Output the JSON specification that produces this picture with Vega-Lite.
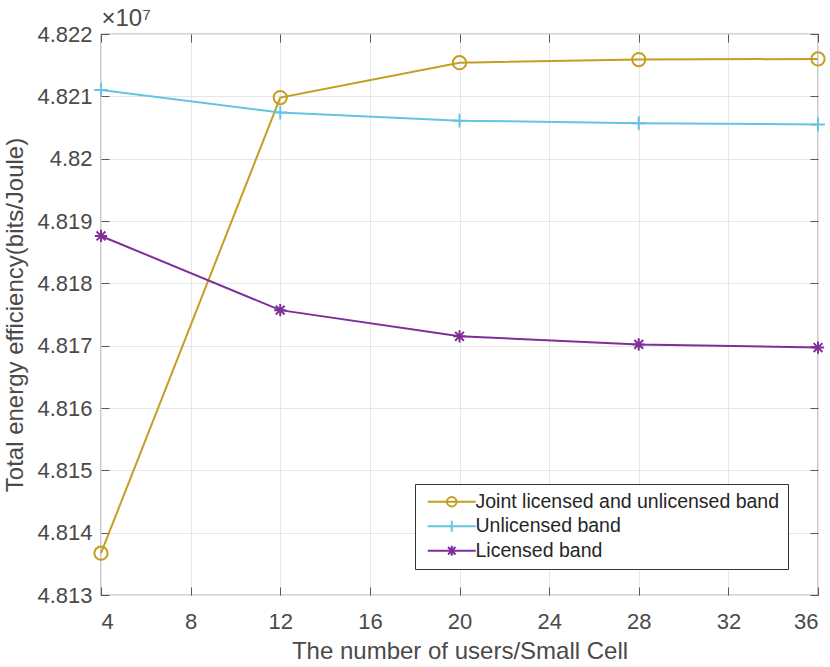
{
  "$schema": "https://vega.github.io/schema/vega-lite/v6.json",
  "width": 717,
  "height": 561,
  "autosize": {"type": "none"},
  "padding": {"left": 101, "top": 34, "right": 12, "bottom": 72},
  "background": "white",
  "config": {
    "font": "Liberation Sans",
    "view": {"stroke": "#555555", "strokeWidth": 1.2},
    "axis": {"labelFont": "Liberation Sans", "titleFont": "Liberation Sans", "labelColor": "#4a4a4a", "titleColor": "#4a4a4a", "labelFontSize": 22, "titleFontSize": 24, "titleFontWeight": "normal", "domainColor": "#555555", "tickColor": "#555555", "gridColor": "#e6e6e6", "gridWidth": 1}
  },
  "data": {"values": [
    {"series": "Joint licensed and unlicensed band", "users": 4, "ee": 4.81367},
    {"series": "Joint licensed and unlicensed band", "users": 12, "ee": 4.82098},
    {"series": "Joint licensed and unlicensed band", "users": 20, "ee": 4.82154},
    {"series": "Joint licensed and unlicensed band", "users": 28, "ee": 4.82159},
    {"series": "Joint licensed and unlicensed band", "users": 36, "ee": 4.82160},
    {"series": "Unlicensed band", "users": 4, "ee": 4.82110},
    {"series": "Unlicensed band", "users": 12, "ee": 4.82074},
    {"series": "Unlicensed band", "users": 20, "ee": 4.82061},
    {"series": "Unlicensed band", "users": 28, "ee": 4.82057},
    {"series": "Unlicensed band", "users": 36, "ee": 4.82055},
    {"series": "Licensed band", "users": 4, "ee": 4.81876},
    {"series": "Licensed band", "users": 12, "ee": 4.81757},
    {"series": "Licensed band", "users": 20, "ee": 4.81715},
    {"series": "Licensed band", "users": 28, "ee": 4.81702},
    {"series": "Licensed band", "users": 36, "ee": 4.81697}
  ]},
  "resolve": {"axis": {"x": "independent", "y": "independent"}},
  "layer": [
    {
      "mark": {"type": "line", "strokeWidth": 2},
      "encoding": {
        "x": {"field": "users", "type": "quantitative", "scale": {"domain": [4, 36], "nice": false, "zero": false},
              "axis": {"orient": "bottom", "values": [4, 8, 12, 16, 20, 24, 28, 32, 36], "title": "The number of users/Small Cell", "tickSize": -8, "labelPadding": 24, "titlePadding": 7, "domain": false}},
        "y": {"field": "ee", "type": "quantitative", "scale": {"domain": [4.813, 4.822], "nice": false, "zero": false},
              "axis": {"orient": "left", "values": [4.813, 4.814, 4.815, 4.816, 4.817, 4.818, 4.819, 4.82, 4.821, 4.822], "labelExpr": "format(datum.value, '.3~f')", "title": "Total energy efficiency(bits/Joule)", "tickSize": -8, "labelPadding": 17, "titlePadding": 9, "domain": false}},
        "color": {"field": "series", "type": "nominal",
                  "scale": {"domain": ["Joint licensed and unlicensed band", "Unlicensed band", "Licensed band"], "range": ["#C49E22", "#66C3E1", "#7E2F9A"]},
                  "legend": {"title": null, "orient": "none", "legendX": 314, "legendY": 450, "direction": "vertical",
                             "labelFontSize": 19.5, "labelColor": "#262626", "labelFont": "Liberation Sans", "labelLimit": 400,
                             "strokeColor": "#333333", "fillColor": "white", "padding": 8, "rowPadding": 3.5,
                             "symbolSize": 100, "symbolOffset": 19, "labelOffset": 14, "symbolStrokeWidth": 2,
                             "encode": {"symbols": {"update": {
                               "shape": {"signal": "datum.value == 'Joint licensed and unlicensed band' ? 'M-4.8,0L4.8,0M-0.95,0A0.95,0.95 0 1,0 0.95,0A0.95,0.95 0 1,0 -0.95,0' : datum.value == 'Unlicensed band' ? 'M-4.8,0L4.8,0M0,-1.1L0,1.1' : 'M-4.8,0L4.8,0M0,-1L0,1M-0.75,-0.75L0.75,0.75M-0.75,0.75L0.75,-0.75'"},
                               "fill": {"value": "transparent"},
                               "strokeWidth": {"value": 2}
                             }}}}}
      }
    },
    {
      "encoding": {
        "x": {"field": "users", "type": "quantitative", "scale": {"domain": [4, 36], "nice": false, "zero": false},
              "axis": {"orient": "top", "values": [4, 8, 12, 16, 20, 24, 28, 32, 36], "labels": false, "title": "×10⁷", "titleX": 0, "titleY": -4, "titleAlign": "left", "titleBaseline": "bottom", "titleFontSize": 24, "titleAngle": 0, "tickSize": -8, "grid": false, "domain": false}},
        "y": {"field": "ee", "type": "quantitative", "scale": {"domain": [4.813, 4.822], "nice": false, "zero": false},
              "axis": {"orient": "right", "values": [4.813, 4.814, 4.815, 4.816, 4.817, 4.818, 4.819, 4.82, 4.821, 4.822], "labels": false, "title": null, "tickSize": -8, "grid": false, "domain": false}},
        "color": {"field": "series", "type": "nominal", "legend": null}
      },
      "layer": [
        {
          "transform": [{"filter": "datum.series == 'Joint licensed and unlicensed band'"}],
          "mark": {"type": "point", "shape": "circle", "filled": false, "strokeWidth": 2, "opacity": 1, "size": 175}
        },
        {
          "transform": [{"filter": "datum.series == 'Unlicensed band'"}],
          "mark": {"type": "point", "shape": "M-1,0L1,0M0,-1L0,1", "filled": false, "strokeWidth": 2, "opacity": 1, "size": 190}
        },
        {
          "transform": [{"filter": "datum.series == 'Licensed band'"}],
          "mark": {"type": "point", "shape": "M-1,0L1,0M0,-1L0,1M-0.72,-0.72L0.72,0.72M-0.72,0.72L0.72,-0.72", "filled": false, "strokeWidth": 2, "opacity": 1, "size": 150}
        }
      ]
    }
  ]
}
